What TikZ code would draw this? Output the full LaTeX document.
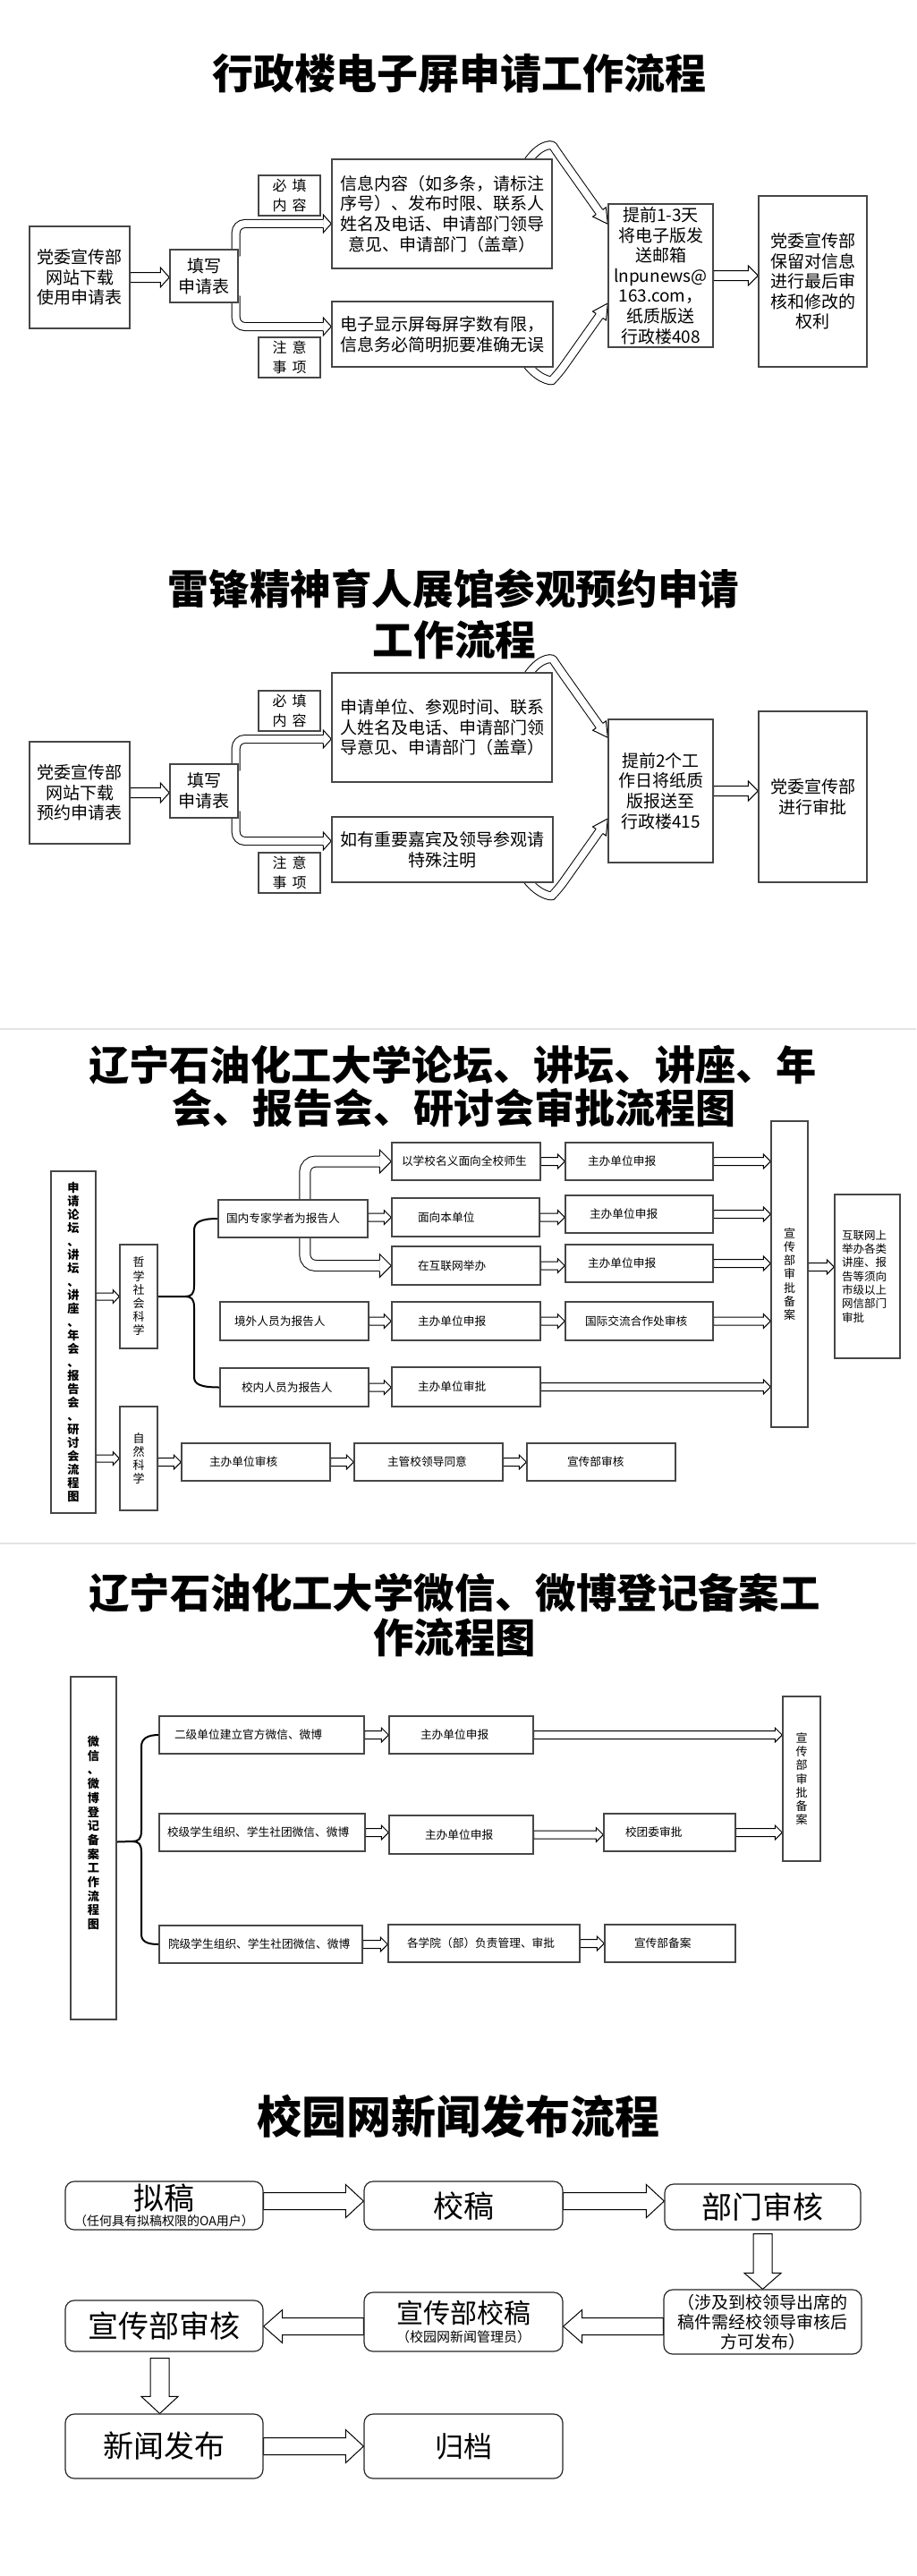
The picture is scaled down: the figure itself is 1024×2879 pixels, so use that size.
\documentclass[tikz,border=0pt]{standalone}
\usepackage{fontspec}
\setmainfont{Noto Sans CJK SC}
\usetikzlibrary{calc}
\pgfdeclarelayer{bgl}
\pgfdeclarelayer{conn}
\pgfsetlayers{bgl,conn,main}
\definecolor{boxgray}{RGB}{70,70,70}
\definecolor{sepgray}{RGB}{228,228,228}

% centred box: name, x1, y1, x2, y2, style, text
\newcommand{\cbx}[7]{%
 \pgfmathsetlengthmacro{\mybw}{(#4-#2)*0.5pt}%
 \pgfmathsetlengthmacro{\mybh}{(#5-#3)*0.5pt}%
 \node[bx, align=center, minimum width=\mybw, minimum height=\mybh, #6] (#1) at ({(#2+#4)/2},{(#3+#5)/2}) {#7};}
% box with text starting at a given x: name, x1, y1, x2, y2, text-left, text
\newcommand{\lbx}[7]{%
 \pgfmathsetlengthmacro{\mybw}{(#4-#2)*0.5pt}%
 \pgfmathsetlengthmacro{\mybh}{(#5-#3)*0.5pt}%
 \pgfmathsetlengthmacro{\mytl}{(#6-#2)*0.5pt}%
 \node[bx, fsm, minimum width=\mybw, minimum height=\mybh] (#1) at ({(#2+#4)/2},{(#3+#5)/2}) {\makebox[\mybw][l]{\hspace*{\mytl}#7}};}
% hollow block arrow: start, tip, shaft half, head half, head length
\newcommand{\barrow}[5]{%
 \coordinate (bs) at #1;
 \coordinate (bt) at #2;
 \coordinate (bb) at ($(bt)!#5!(bs)$);
 \draw[arr] ($(bs)!#3!90:(bt)$) -- ($(bb)!#3!90:(bt)$) -- ($(bb)!#4!90:(bt)$) -- (bt) -- ($(bb)!#4!-90:(bt)$) -- ($(bb)!#3!-90:(bt)$) -- ($(bs)!#3!-90:(bt)$) -- cycle;}
\newcommand{\sarrow}[2]{\barrow{#1}{#2}{2.25pt}{4pt}{4pt}}
% head for a double-line arrow: base, tip, shaft half, head half
\newcommand{\bhead}[4]{%
 \coordinate (hb) at #1;
 \coordinate (ht) at #2;
 \fill[white] ($(hb)!#4!90:(ht)$) -- (ht) -- ($(hb)!#4!-90:(ht)$) -- cycle;
 \draw[line width=0.5pt, line join=miter] ($(hb)!#3!90:(ht)$) -- ($(hb)!#4!90:(ht)$) -- (ht) -- ($(hb)!#4!-90:(ht)$) -- ($(hb)!#3!-90:(ht)$);}

\begin{document}
\begin{tikzpicture}[x=0.5pt,y=-0.5pt,
  bx/.style={draw=boxgray, line width=0.7pt, fill=white, inner sep=0pt},
  rbx/.style={draw=black!85, line width=0.6pt, rounded corners=5pt},
  f1/.style={font=\fontsize{9.5pt}{11.3pt}\selectfont},
  flab/.style={font=\fontsize{8pt}{11pt}\selectfont},
  fsm/.style={font=\fontsize{6.35pt}{7.6pt}\selectfont},
  vf/.style={font=\fontsize{6.5pt}{7.6pt}\selectfont},
  vfb/.style={font=\bfseries\fontsize{6.6pt}{7.5pt}\selectfont},
  web/.style={align=left, text width=28.5pt, font=\fontsize{6.25pt}{7.65pt}\selectfont},
  big/.style={font=\fontsize{17pt}{20pt}\selectfont},
  arr/.style={draw=black, line width=0.5pt, fill=white, line join=miter},
  dbl/.style={draw=black, line width=0.5pt, double=white, double distance=4pt, rounded corners=5pt},
  dbl3/.style={draw=black, line width=0.5pt, double=white, double distance=5.5pt, rounded corners=6pt},
  brc/.style={draw=black, line width=1pt},
  ttl/.style={inner sep=0pt}]

\useasboundingbox (0,0) rectangle (1024,2879);
\begin{pgfonlayer}{bgl}
\fill[white] (0,0) rectangle (1024,2879);
\draw[sepgray, line width=0.6pt] (0,1150) -- (1024,1150);
\draw[sepgray, line width=0.6pt] (0,1725) -- (1024,1725);
\end{pgfonlayer}

% ---------------- titles ----------------
\node[ttl, font=\bfseries\fontsize{23pt}{26pt}\selectfont] (t1) at (513,82) {行政楼电子屏申请工作流程};
\node[ttl, font=\bfseries\fontsize{22.8pt}{26pt}\selectfont] (t2a) at (507,658) {雷锋精神育人展馆参观预约申请};
\node[ttl, font=\bfseries\fontsize{22.8pt}{26pt}\selectfont] (t2b) at (508,715) {工作流程};
\node[ttl, font=\bfseries\fontsize{22.6pt}{26pt}\selectfont] (t3a) at (506,1190) {辽宁石油化工大学论坛、讲坛、讲座、年};
\node[ttl, font=\bfseries\fontsize{22.5pt}{26pt}\selectfont] (t3b) at (507,1238) {会、报告会、研讨会审批流程图};
\node[ttl, font=\bfseries\fontsize{22.7pt}{26pt}\selectfont] (t4a) at (508,1780) {辽宁石油化工大学微信、微博登记备案工};
\node[ttl, font=\bfseries\fontsize{22.7pt}{26pt}\selectfont] (t4b) at (508,1830) {作流程图};
\node[ttl, font=\bfseries\fontsize{25pt}{28pt}\selectfont] (t5) at (512,2365) {校园网新闻发布流程};

% ---------------- section 1 ----------------
\cbx{s1a}{33}{253}{145}{367}{f1}{党委宣传部\\网站下载\\使用申请表}
\cbx{s1b}{190}{279}{266}{338}{f1}{填写\\申请表}
\cbx{s1l1}{289}{196}{358}{241}{flab}{必\hspace{3pt}填\\内\hspace{3pt}容}
\cbx{s1l2}{289}{377}{358}{422}{flab}{注\hspace{3pt}意\\事\hspace{3pt}项}
\cbx{s1c}{371}{178}{617}{300}{f1}{信息内容（如多条，请标注\\序号）、发布时限、联系人\\姓名及电话、申请部门领导\\意见、申请部门（盖章）}
\cbx{s1d}{371}{337}{618}{410}{f1}{电子显示屏每屏字数有限，\\信息务必简明扼要准确无误}
\cbx{s1e}{680}{228}{797}{388}{f1}{提前1-3天\\将电子版发\\送邮箱\\lnpunews@\\163.com，\\纸质版送\\行政楼408}
\cbx{s1f}{848}{219}{969}{410}{f1}{党委宣传部\\保留对信息\\进行最后审\\核和修改的\\权利}

% ---------------- section 2 ----------------
\cbx{s2a}{33}{829}{145}{943}{f1}{党委宣传部\\网站下载\\预约申请表}
\cbx{s2b}{190}{854}{266}{914}{f1}{填写\\申请表}
\cbx{s2l1}{289}{772}{358}{817}{flab}{必\hspace{3pt}填\\内\hspace{3pt}容}
\cbx{s2l2}{289}{953}{358}{998}{flab}{注\hspace{3pt}意\\事\hspace{3pt}项}
\cbx{s2c}{371}{752}{617}{874}{f1}{申请单位、参观时间、联系\\人姓名及电话、申请部门领\\导意见、申请部门（盖章）}
\cbx{s2d}{371}{913}{618}{986}{f1}{如有重要嘉宾及领导参观请\\特殊注明}
\cbx{s2e}{680}{804}{797}{964}{f1}{提前2个工\\作日将纸质\\版报送至\\行政楼415}
\cbx{s2f}{848}{795}{969}{986}{f1}{党委宣传部\\进行审批}

% ---------------- section 3 ----------------
\cbx{s3main}{57}{1309}{107}{1691}{vfb}{申\\请\\论\\坛\\、\\讲\\坛\\、\\讲\\座\\、\\年\\会\\、\\报\\告\\会\\、\\研\\讨\\会\\流\\程\\图}
\cbx{s3phil}{134}{1391}{176}{1507}{vf}{哲\\学\\社\\会\\科\\学}
\cbx{s3nat}{134}{1572}{176}{1688}{vf}{自\\然\\科\\学}
\lbx{s3r1}{244}{1341}{411}{1383}{253}{国内专家学者为报告人}
\lbx{s3r1a}{438}{1277}{604}{1319}{449}{以学校名义面向全校师生}
\lbx{s3r1b}{438}{1339}{603}{1382}{467}{面向本单位}
\lbx{s3r1c}{438}{1393}{604}{1436}{467}{在互联网举办}
\lbx{s3p1}{632}{1277}{797}{1319}{657}{主办单位申报}
\lbx{s3p2}{632}{1336}{797}{1378}{659}{主办单位申报}
\lbx{s3p3}{632}{1391}{797}{1433}{657}{主办单位申报}
\lbx{s3r2}{246}{1455}{412}{1498}{262}{境外人员为报告人}
\lbx{s3r2a}{438}{1455}{604}{1498}{467}{主办单位申报}
\lbx{s3r2b}{632}{1455}{797}{1498}{654}{国际交流合作处审核}
\lbx{s3r3}{246}{1529}{412}{1572}{270}{校内人员为报告人}
\lbx{s3r3a}{438}{1528}{604}{1572}{467}{主办单位审批}
\lbx{s3n1}{203}{1613}{369}{1655}{234}{主办单位审核}
\lbx{s3n2}{396}{1613}{562}{1655}{433}{主管校领导同意}
\lbx{s3n3}{589}{1613}{755}{1655}{634}{宣传部审核}
\cbx{s3tall}{862}{1253}{903}{1595}{vf}{宣\\传\\部\\审\\批\\备\\案}
\cbx{s3web}{933}{1335}{1006}{1518}{web}{互联网上\\举办各类\\讲座、报\\告等须向\\市级以上\\网信部门\\审批}

% ---------------- section 4 ----------------
\cbx{s4main}{79}{1874}{130}{2257}{vfb}{\raisebox{6pt}[0pt][0pt]{\begin{tabular}{@{}c@{}}微\\信\\、\\微\\博\\登\\记\\备\\案\\工\\作\\流\\程\\图\end{tabular}}}
\lbx{s4r1}{178}{1918}{407}{1960}{195}{二级单位建立官方微信、微博}
\lbx{s4r1a}{435}{1918}{596}{1960}{470}{主办单位申报}
\lbx{s4r2}{178}{2027}{408}{2069}{187}{校级学生组织、学生社团微信、微博}
\lbx{s4r2a}{435}{2029}{596}{2072}{475}{主办单位申报}
\lbx{s4r2b}{675}{2027}{822}{2069}{699}{校团委审批}
\lbx{s4r3}{178}{2152}{405}{2194}{188}{院级学生组织、学生社团微信、微博}
\lbx{s4r3a}{434}{2151}{648}{2193}{455}{各学院（部）负责管理、审批}
\lbx{s4r3b}{676}{2151}{822}{2193}{709}{宣传部备案}
\cbx{s4tall}{875}{1896}{917}{2080}{vf}{宣\\传\\部\\审\\批\\备\\案}

% ---------------- section 5 ----------------
\cbx{s5a}{73}{2438}{294}{2492}{rbx, font=\fontsize{7pt}{9.2pt}\selectfont}{{\fontsize{17pt}{17pt}\selectfont 拟稿}\\（任何具有拟稿权限的OA用户）}
\cbx{s5b}{407}{2438}{629}{2492}{rbx, big}{校稿}
\cbx{s5c}{743}{2441}{962}{2492}{rbx, big}{部门审核}
\cbx{s5d}{742}{2559}{963}{2631}{rbx, font=\fontsize{9.5pt}{11pt}\selectfont}{（涉及到校领导出席的\\稿件需经校领导审核后\\方可发布）}
\cbx{s5e}{407}{2562}{629}{2628}{rbx, font=\fontsize{7.5pt}{10.65pt}\selectfont}{{\fontsize{15pt}{15pt}\selectfont 宣传部校稿}\\（校园网新闻管理员）}
\cbx{s5f}{73}{2571}{294}{2628}{rbx, big}{宣传部审核}
\cbx{s5g}{73}{2698}{294}{2770}{rbx, big}{新闻发布}
\cbx{s5h}{407}{2698}{629}{2770}{rbx, font=\fontsize{16pt}{19pt}\selectfont}{归档}

% ---------------- connectors ----------------
\begin{pgfonlayer}{conn}
% section 1
\barrow{(s1a.east)}{(s1b.west |- bs)}{2.75pt}{5.5pt}{5pt}
\draw[dbl] ($(s1b.north east)+(-3,8)$) |- ($(s1c.west)+(-9,11)$);
\bhead{($(s1c.west)+(-9,11)$)}{($(s1c.west)+(0,11)$)}{2.25pt}{5pt}
\draw[dbl] ($(s1b.south east)+(-3,-8)$) |- ($(s1d.west)+(-9,-8.5)$);
\bhead{($(s1d.west)+(-9,-8.5)$)}{($(s1d.west)+(0,-8.5)$)}{2.25pt}{5pt}
\draw[dbl] ($(s1c.north east)+(-32,10)$) .. controls (600,162) and (616,160) .. (624,172) -- (670,237);
\bhead{(670,237)}{($(s1e.north west)+(0,23)$)}{2.25pt}{4.5pt}
\draw[dbl] ($(s1d.south east)+(-33,-8)$) .. controls (600,424) and (616,426) .. (624,418) -- (670,353);
\bhead{(670,353)}{($(s1e.west)+(0,31)$)}{2.25pt}{4.5pt}
\barrow{(s1e.east)}{(s1f.west |- bs)}{2.75pt}{5.5pt}{5.5pt}
% section 2
\barrow{(s2a.east)}{(s2b.west |- bs)}{2.75pt}{5.5pt}{5pt}
\draw[dbl] ($(s2b.north east)+(-3,8)$) |- ($(s2c.west)+(-9,13)$);
\bhead{($(s2c.west)+(-9,13)$)}{($(s2c.west)+(0,13)$)}{2.25pt}{5pt}
\draw[dbl] ($(s2b.south east)+(-3,-8)$) |- ($(s2d.west)+(-9,-9.5)$);
\bhead{($(s2d.west)+(-9,-9.5)$)}{($(s2d.west)+(0,-9.5)$)}{2.25pt}{5pt}
\draw[dbl] ($(s2c.north east)+(-32,10)$) .. controls (600,736) and (616,734) .. (624,746) -- (670,811);
\bhead{(670,811)}{($(s2e.north west)+(0,21)$)}{2.25pt}{4.5pt}
\draw[dbl] ($(s2d.south east)+(-33,-8)$) .. controls (600,1000) and (616,1002) .. (624,994) -- (670,929);
\bhead{(670,929)}{($(s2e.west)+(0,31)$)}{2.25pt}{4.5pt}
\barrow{(s2e.east)}{(s2f.west |- bs)}{2.75pt}{5.5pt}{5.5pt}
% section 3
\barrow{(s3main.east |- s3phil.west)}{(s3phil.west)}{2pt}{3.75pt}{3.5pt}
\barrow{(s3main.east |- s3nat.west)}{(s3nat.west)}{2pt}{3.75pt}{3.5pt}
\sarrow{(s3nat.east |- s3n1.west)}{(s3n1.west)}
\sarrow{(s3n1.east)}{(s3n2.west)}
\sarrow{(s3n2.east)}{(s3n3.west)}
\draw[brc] (s3phil.east) -- (207,1449) .. controls (214,1449) and (217,1446) .. (217,1437) -- (217,1375) .. controls (217,1366) and (224,1362) .. (s3r1.west);
\draw[brc] (207,1449) .. controls (214,1449) and (217,1452) .. (217,1461) -- (217,1539) .. controls (217,1547) and (224,1550.5) .. (s3r3.west);
\draw[dbl3] ($(s3r1.north west)+(97.5,10)$) |- ($(s3r1a.west)+(-13,0)$);
\bhead{($(s3r1a.west)+(-13,0)$)}{(s3r1a.west)}{3pt}{6.5pt}
\draw[dbl3] ($(s3r1.south west)+(97.5,-10)$) |- ($(s3r1c.west)+(-13,0)$);
\bhead{($(s3r1c.west)+(-13,0)$)}{(s3r1c.west)}{3pt}{6.5pt}
\sarrow{(s3r1.east |- s3r1b.west)}{(s3r1b.west)}
\sarrow{(s3r1a.east)}{(s3p1.west |- bs)}
\sarrow{(s3r1b.east)}{(s3p2.west |- bs)}
\sarrow{(s3r1c.east)}{(s3p3.west |- bs)}
\sarrow{(s3p1.east)}{(s3tall.west |- bs)}
\sarrow{(s3p2.east)}{(s3tall.west |- bs)}
\sarrow{(s3p3.east)}{(s3tall.west |- bs)}
\sarrow{(s3r2.east)}{(s3r2a.west |- bs)}
\sarrow{(s3r2a.east)}{(s3r2b.west |- bs)}
\sarrow{(s3r2b.east)}{(s3tall.west |- bs)}
\sarrow{(s3r3.east)}{(s3r3a.west |- bs)}
\sarrow{(s3r3a.east)}{(s3tall.west |- bs)}
\sarrow{($(s3tall.east)+(0,-8)$)}{(s3web.west |- bs)}
% section 4
\draw[brc] ($(s4main.east)+(0,-7)$) -- (148,2058) .. controls (155,2058) and (158,2055) .. (158,2046) -- (158,1952) .. controls (158,1943) and (165,1939) .. (s4r1.west);
\draw[brc] (148,2058) .. controls (155,2058) and (158,2061) .. (158,2070) -- (158,2162) .. controls (158,2170) and (165,2173) .. (s4r3.west);
\sarrow{(s4r1.east)}{(s4r1a.west |- bs)}
\sarrow{(s4r1a.east)}{(s4tall.west |- bs)}
\sarrow{(s4r2.east)}{(s4r2a.west |- bs)}
\sarrow{(s4r2a.east)}{(s4r2b.west |- bs)}
\sarrow{(s4r2b.east)}{(s4tall.west |- bs)}
\sarrow{(s4r3.east)}{(s4r3a.west |- bs)}
\sarrow{(s4r3a.east)}{(s4r3b.west |- bs)}
% section 5
\barrow{($(s5a.east)+(0,-5)$)}{(s5b.west |- bs)}{4.75pt}{9.25pt}{10pt}
\barrow{($(s5b.east)+(0,-5)$)}{(s5c.west |- bs)}{4.75pt}{9.25pt}{10pt}
\barrow{($(s5c.south)+(0,4)$)}{(s5d.north)}{5.25pt}{10.25pt}{9pt}
\barrow{($(s5d.west)+(0,5)$)}{(s5e.east |- bs)}{4.75pt}{9.25pt}{10.5pt}
\barrow{($(s5e.west)+(0,5)$)}{(s5f.east |- bs)}{4.75pt}{9.25pt}{10.5pt}
\barrow{($(s5f.south)+(-5,7)$)}{(s5g.north -| bs)}{5.25pt}{10.25pt}{9.5pt}
\barrow{(s5g.east)}{(s5h.west |- bs)}{4.75pt}{9.25pt}{10pt}
\end{pgfonlayer}
\end{tikzpicture}
\end{document}
